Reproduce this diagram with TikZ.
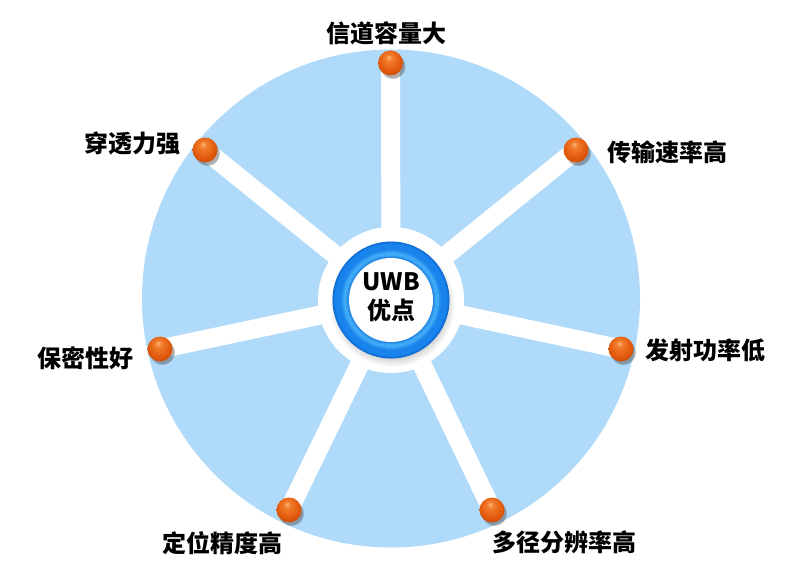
\documentclass[tikz,border=0pt]{standalone}
\usepackage{fontspec}
\setmainfont{Noto Sans CJK SC}
\usetikzlibrary{shadows}
\definecolor{discblue}{RGB}{176,218,250}
\definecolor{ringouter}{RGB}{16,110,214}
\definecolor{ringmain}{RGB}{24,132,236}
\definecolor{ringlight}{RGB}{66,172,248}
\definecolor{ringrim}{RGB}{34,136,228}
\definecolor{ballhi}{RGB}{252,180,118}
\definecolor{ballmid}{RGB}{242,124,44}
\definecolor{ballbody}{RGB}{226,90,12}
\definecolor{balldark}{RGB}{172,60,6}
\pgfdeclareradialshading{orangeball}{\pgfpoint{-4bp}{12bp}}{color(0bp)=(ballhi); color(7bp)=(ballmid); color(22bp)=(ballbody); color(42bp)=(balldark); color(50bp)=(balldark)}
\begin{document}
\begin{tikzpicture}[x=1pt,y=-1pt,
  bigdisc/.style={circle,fill=discblue,minimum size=498pt,inner sep=0pt},
  spoke/.style={draw=white,line width=19pt},
  hub/.style={circle,fill=white,minimum size=146pt,inner sep=0pt},
  ringnode/.style={circle,fill=ringouter,minimum size=117pt,inner sep=0pt,
    circular drop shadow={shadow xshift=1pt,shadow yshift=-4pt,shadow scale=1.07,opacity=0.35}},
  ringband/.style={line width=1.25pt},
  innerdisc/.style={circle,fill=white,minimum size=84pt,inner sep=0pt},
  ctext/.style={align=center,font=\bfseries\fontsize{24}{29}\selectfont,inner sep=0pt},
  ballnode/.style={circle,shading=orangeball,minimum size=25pt,inner sep=0pt,
    circular drop shadow={shadow xshift=2pt,shadow yshift=-3pt,shadow scale=1.05,opacity=0.45,fill=black!70}},
  lbl/.style={font=\bfseries\fontsize{24}{28}\selectfont,inner sep=0pt,text=black}]
\useasboundingbox (0,0) rectangle (802,585);
\node[bigdisc] (disc) at (391,298.5) {};
\coordinate (c) at (391,300);
\coordinate (p1) at (390.5,63);
\coordinate (p2) at (576,150);
\coordinate (p3) at (621,349);
\coordinate (p4) at (492,510);
\coordinate (p5) at (289,510);
\coordinate (p6) at (160,349);
\coordinate (p7) at (205,150);
\foreach \i in {1,...,7} \draw[spoke] (c) -- (p\i);
\node[hub] (hubdisc) at (c) {};
\node[ringnode] (ring) at (c) {};
\foreach \r/\col in {57.5/ringouter, 56.5/ringouter!40!ringmain, 55.5/ringmain, 54.5/ringmain, 53.5/ringmain, 52.5/ringmain, 51.5/ringmain, 50.5/ringmain, 49.5/ringmain!80!ringlight, 48.5/ringmain!55!ringlight, 47.5/ringmain!30!ringlight, 46.5/ringlight, 45.5/ringlight, 44.5/ringlight!80!ringrim, 43.5/ringlight!45!ringrim, 42.5/ringrim}
  \draw[ringband,\col] (ring.center) circle (\r pt);
\node[innerdisc] (inner) at (c) {};
\node[ctext] (center) at (391,297.5) {UWB\\优点};
\foreach \i in {1,...,7} \node[ballnode] (b\i) at (p\i) {};
\node[lbl,anchor=center] (l1) at (386.5,33) {信道容量大};
\node[lbl,anchor=west] (l2) at (607,152) {传输速率高};
\node[lbl,anchor=west] (l3) at (645,350) {发射功率低};
\node[lbl,anchor=center] (l4) at (564.5,542) {多径分辨率高};
\node[lbl,anchor=center] (l5) at (222.5,543) {定位精度高};
\node[lbl,anchor=east] (l6) at (134,358) {保密性好};
\node[lbl,anchor=east] (l7) at (181,143) {穿透力强};
\end{tikzpicture}
\end{document}
